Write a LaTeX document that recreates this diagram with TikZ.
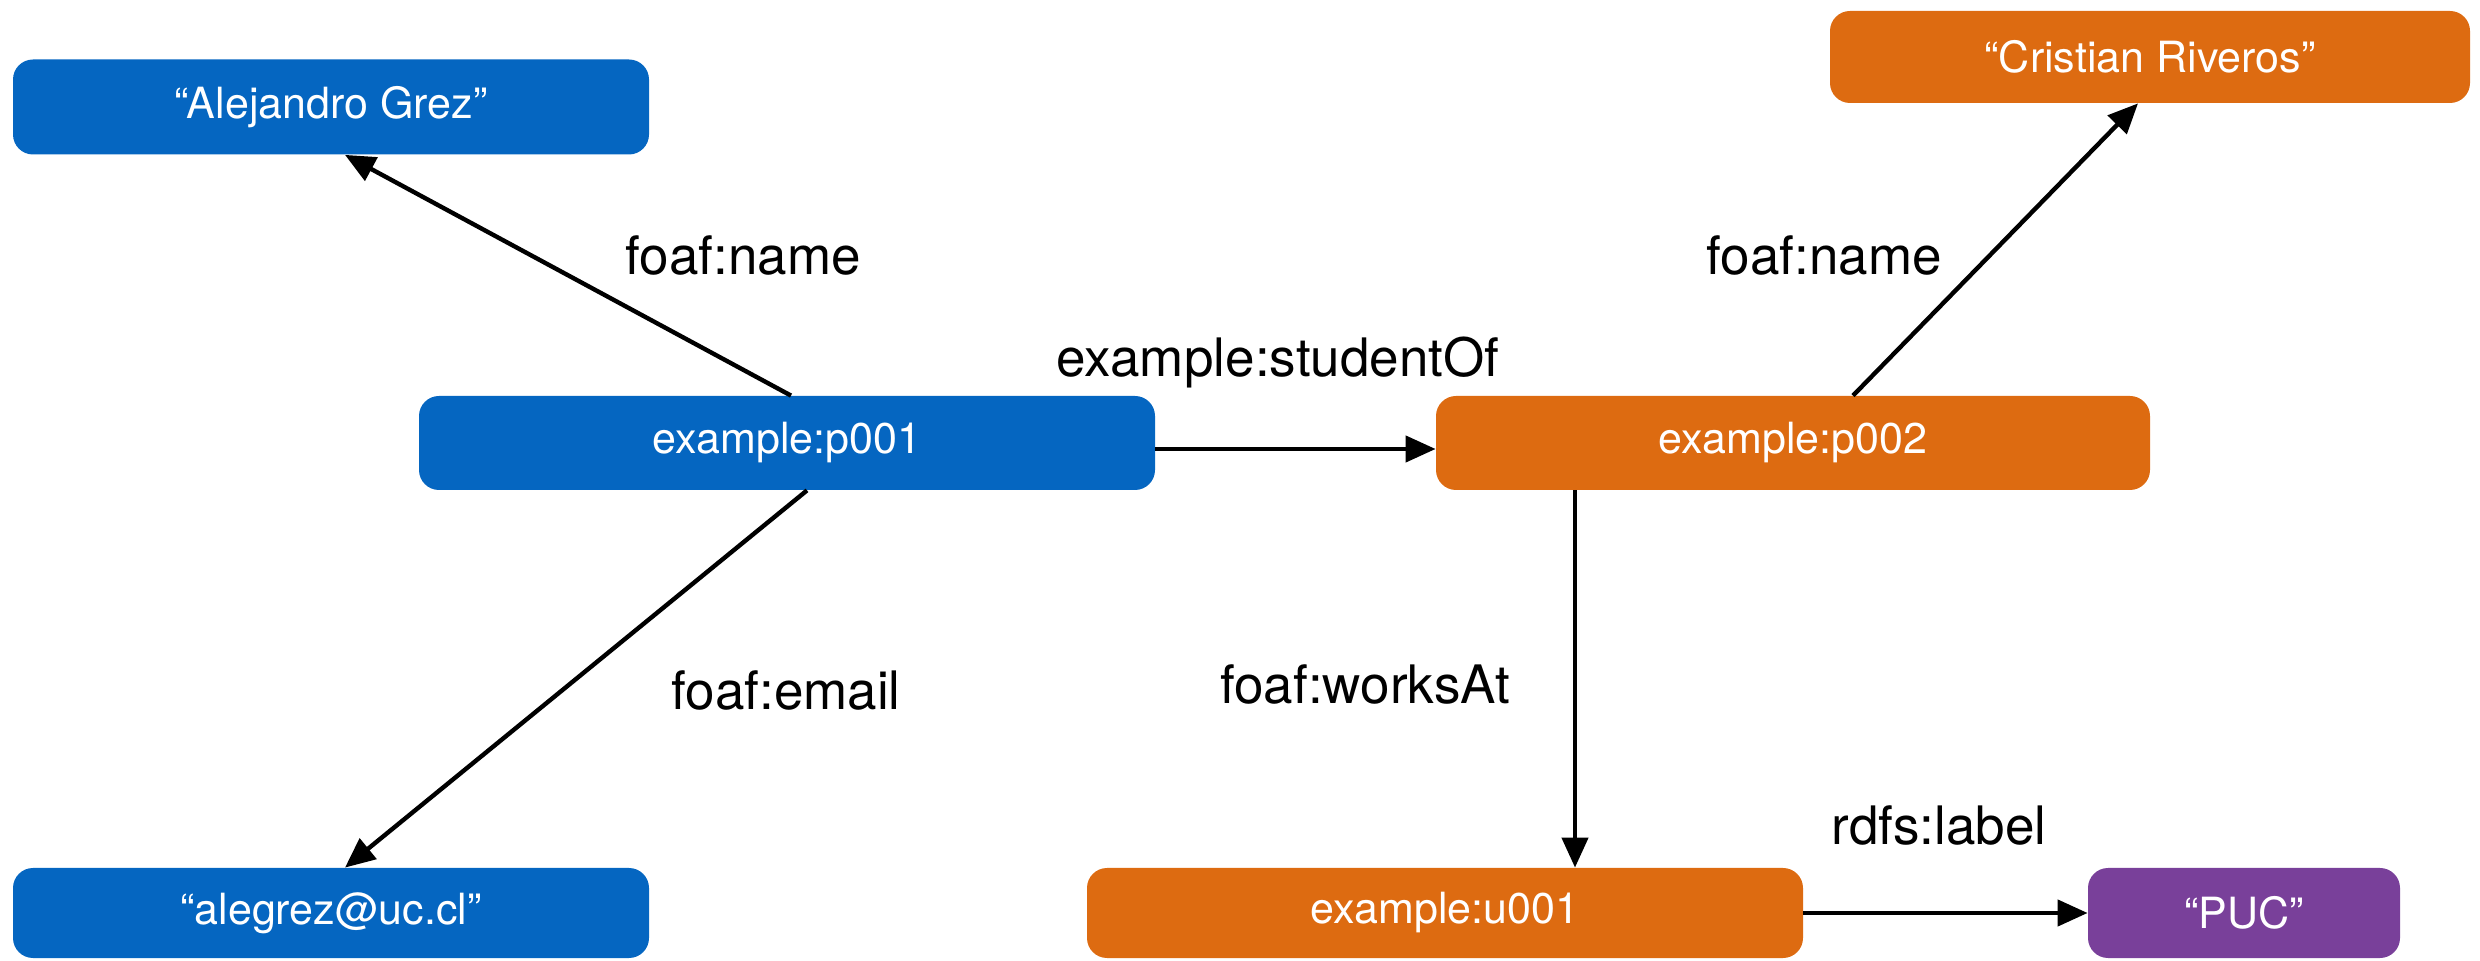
\documentclass[tikz,border=0pt]{standalone}
\usepackage{fontspec}
\setmainfont{TeX Gyre Heros}
\usetikzlibrary{arrows.meta,calc}
\definecolor{cblue}{RGB}{5,102,193}
\definecolor{corange}{RGB}{221,107,17}
\definecolor{cpurple}{RGB}{121,64,154}
\begin{document}
\begin{tikzpicture}[x=0.5pt,y=-0.5pt,
  box/.style={rectangle,rounded corners=10pt,text=white,font=\fontsize{21.5}{25}\selectfont,inner sep=0pt},
  bluebox/.style={box,fill=cblue},
  orangebox/.style={box,fill=corange},
  purplebox/.style={box,fill=cpurple},
  lbl/.style={font=\fontsize{26.5}{30}\selectfont,text=black},
  edge/.style={line width=2.2pt,-{Triangle[length=15pt,width=13pt]}}]
\useasboundingbox (0,0) rectangle (2480,961);
\node[bluebox,minimum width=318pt,minimum height=47.5pt] (aleg) at (331,107) {“Alejandro Grez”};
\node[orangebox,minimum width=320pt,minimum height=46pt] (cris) at (2150,57) {“Cristian Riveros”};
\node[bluebox,minimum width=368pt,minimum height=47pt] (p1) at (787,443) {example:p001};
\node[orangebox,minimum width=357pt,minimum height=47pt] (p2) at (1793,443) {example:p002};
\node[bluebox,minimum width=318pt,minimum height=45pt] (mail) at (331,913) {“alegrez@uc.cl”};
\node[orangebox,minimum width=358pt,minimum height=45pt] (u1) at (1445,913) {example:u001};
\node[purplebox,minimum width=156pt,minimum height=45pt] (puc) at (2244,913) {“PUC”};
\draw[edge] ([xshift=2pt]p1.north) -- ([xshift=7pt]aleg.south);
\draw[edge] ([xshift=10pt]p1.south) -- ([xshift=7pt]mail.north);
\draw[edge] ([yshift=-3pt]p1.east) -- ([yshift=-3pt]p2.west);
\draw[edge] ([xshift=30pt]p2.north) -- ([xshift=-6pt]cris.south);
\draw[edge] ([xshift=-109pt]p2.south) -- ([xshift=65pt]u1.north);
\draw[edge] (u1.east) -- (puc.west);
\node[lbl] (l1) at (743,256) {foaf:name};
\node[lbl] (l2) at (1278,362) {example:studentOf};
\node[lbl] (l3) at (1824,256) {foaf:name};
\node[lbl] (l4) at (786,691) {foaf:email};
\node[lbl] (l5) at (1365,685) {foaf:worksAt};
\node[lbl] (l6) at (1939,826) {rdfs:label};
\end{tikzpicture}
\end{document}
